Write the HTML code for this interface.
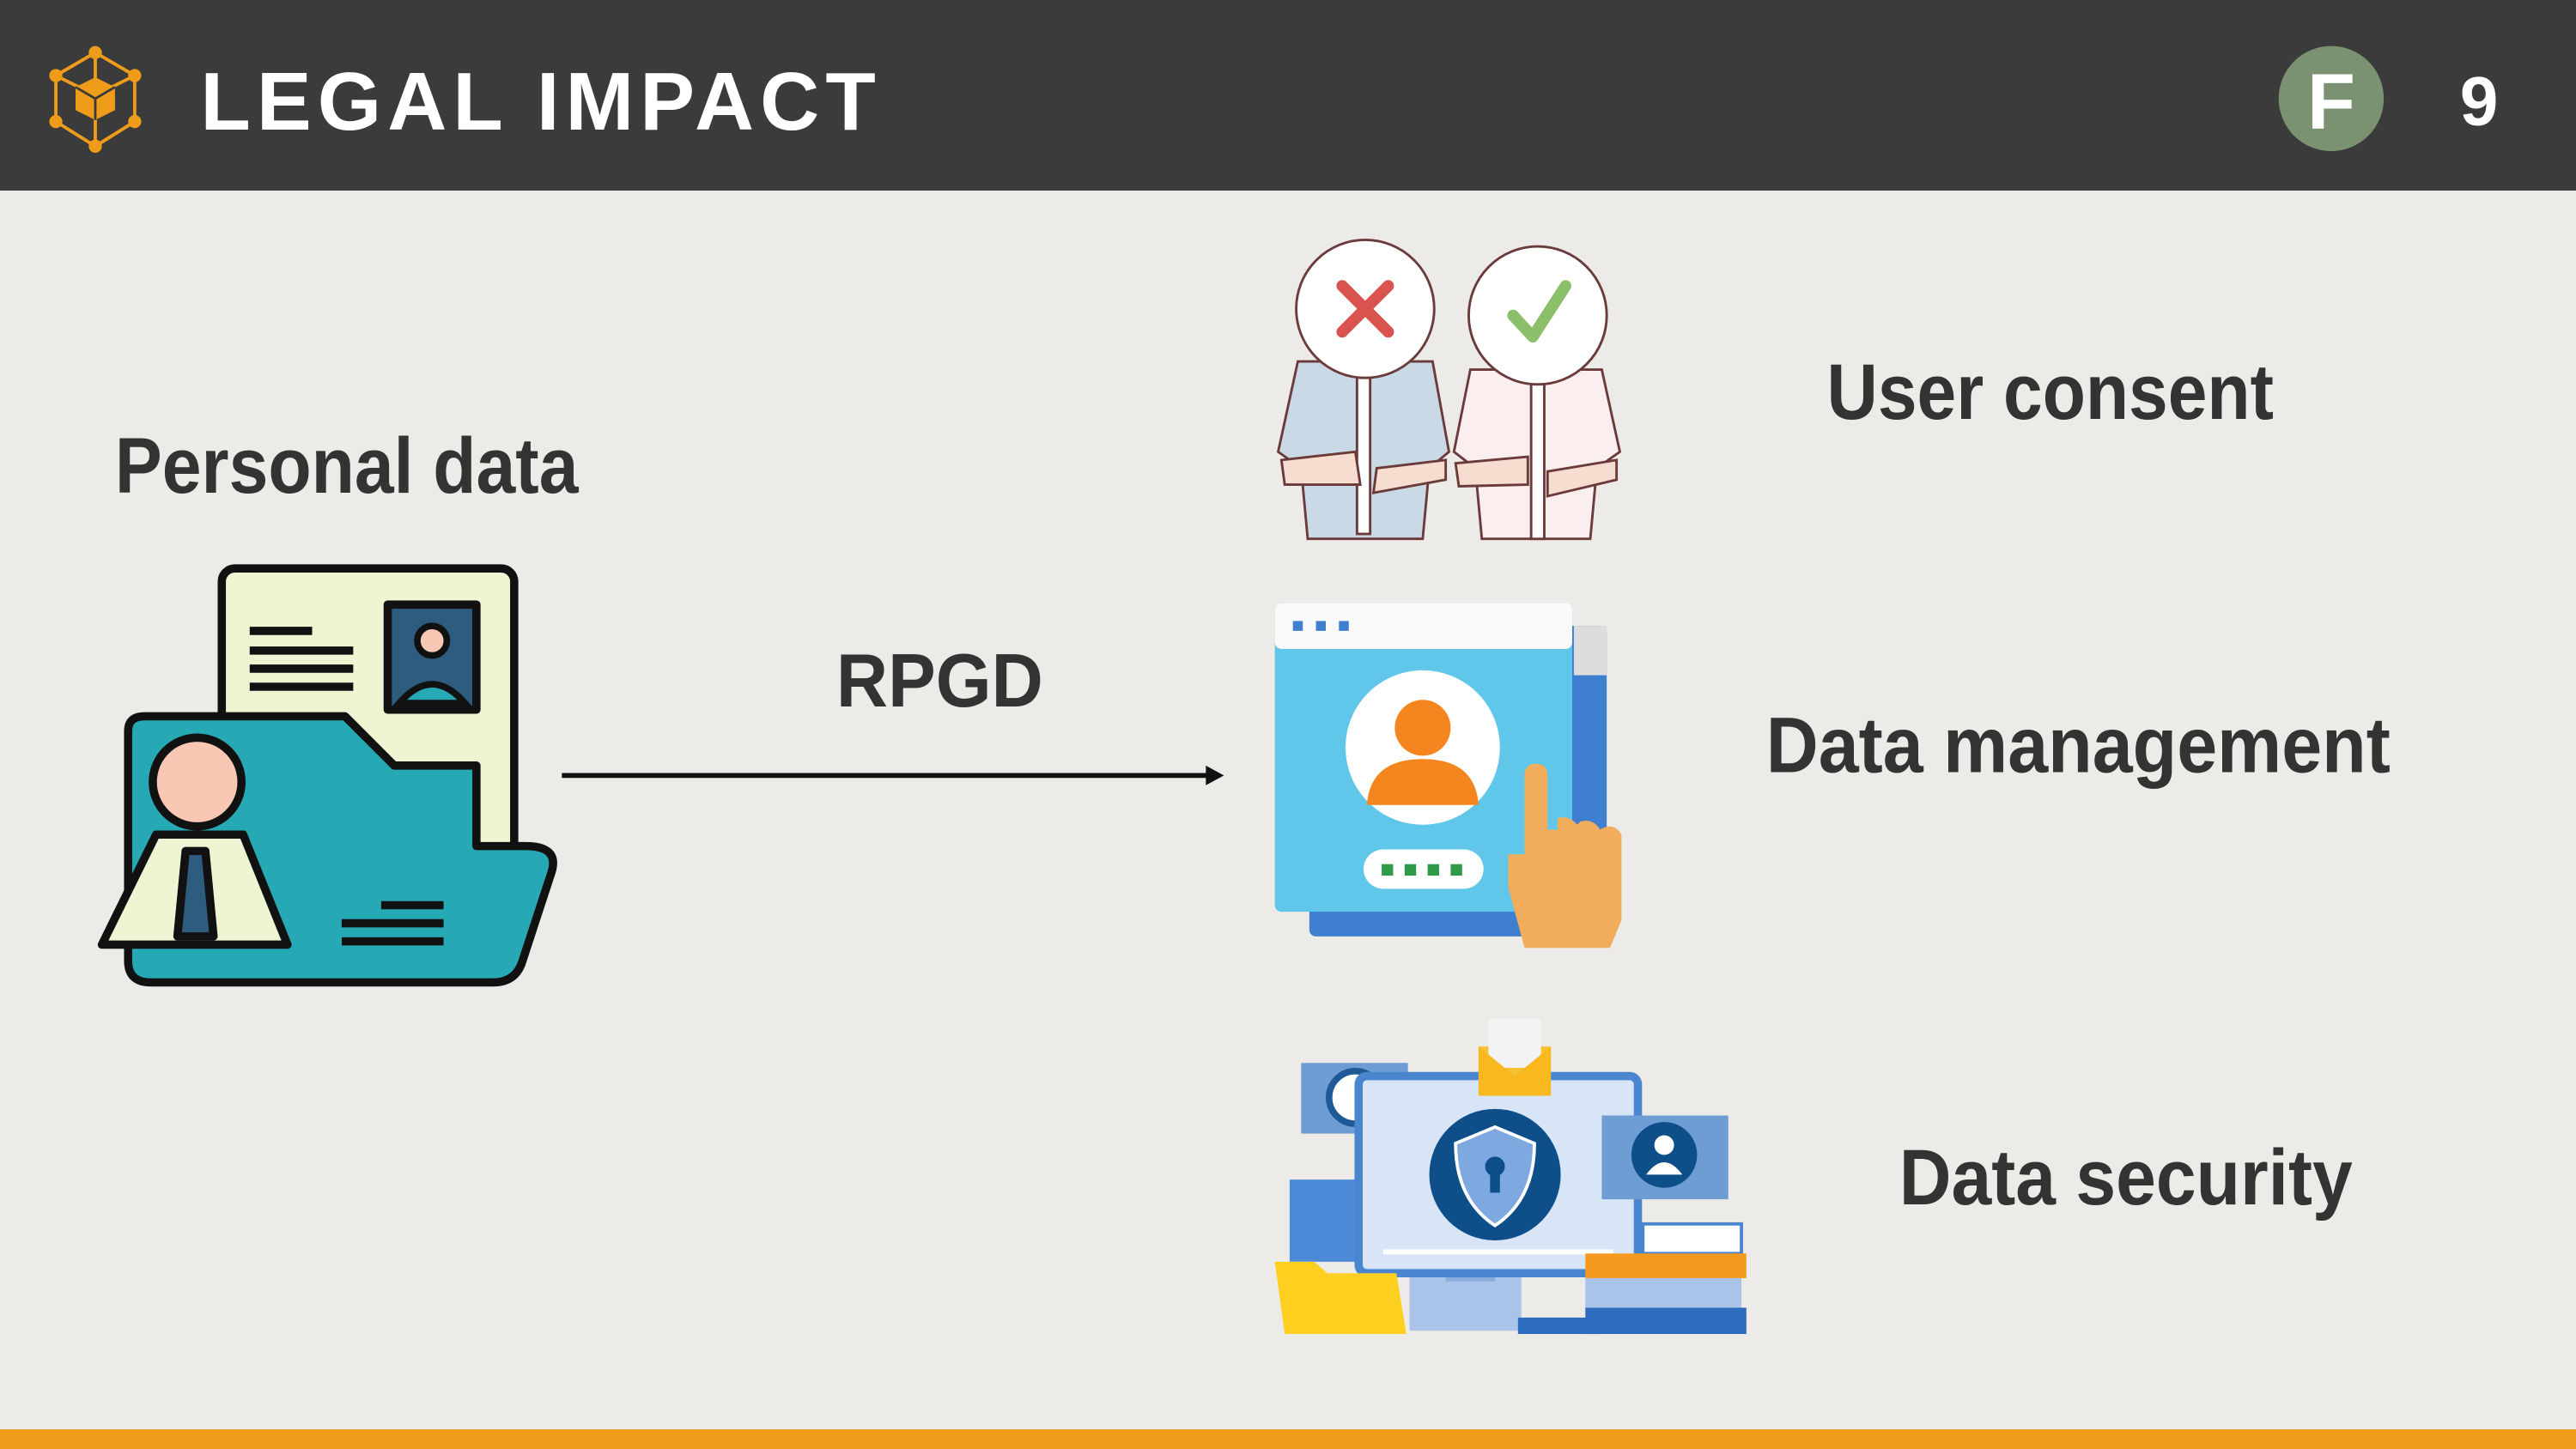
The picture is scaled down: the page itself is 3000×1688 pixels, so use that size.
<!DOCTYPE html>
<html><head><meta charset="utf-8"><style>
html,body{margin:0;padding:0;background:#edebe7}
svg{display:block}
</style></head><body>
<svg width="3000" height="1688" viewBox="0 0 1568 882" preserveAspectRatio="none" xmlns="http://www.w3.org/2000/svg">
<rect width="1568" height="882" fill="#edebe7"/>
<rect width="1568" height="116" fill="#3b3b3b"/>
<rect y="870" width="1568" height="12" fill="#f09c1b"/>
<!-- logo -->
<g stroke="#f09c1b" stroke-width="2" fill="none">
<polygon points="58,32 82,46 82,74 58,89 34,74 34,46"/>
<line x1="58" y1="32" x2="58" y2="89"/><line x1="34" y1="46" x2="58" y2="58"/><line x1="82" y1="46" x2="58" y2="58"/>
</g>
<g fill="#f09c1b"><circle cx="58" cy="32" r="4"/><circle cx="82" cy="46" r="4"/><circle cx="82" cy="74" r="4"/><circle cx="58" cy="89" r="4"/><circle cx="34" cy="74" r="4"/><circle cx="34" cy="46" r="4"/>
<polygon points="58,47 70,53 70,67 58,73 46,67 46,53"/></g>
<g stroke="#3b3b3b" stroke-width="1.5"><line x1="58" y1="60" x2="58" y2="73"/><line x1="46" y1="53" x2="58" y2="60"/><line x1="70" y1="53" x2="58" y2="60"/></g>
<text x="122" y="79" font-family="Liberation Sans, sans-serif" font-weight="bold" font-size="50" fill="#fff" textLength="411" lengthAdjust="spacing">LEGAL IMPACT</text>
<circle cx="1419" cy="60" r="32" fill="#7a9172"/>
<text x="1419" y="78" text-anchor="middle" font-family="Liberation Sans, sans-serif" font-weight="bold" font-size="48" fill="#fff">F</text>
<text x="1509" y="76" text-anchor="middle" font-family="Liberation Sans, sans-serif" font-weight="bold" font-size="42" fill="#fff">9</text>

<g font-family="Liberation Sans, sans-serif" font-weight="bold" fill="#333">
<text x="70" y="300" font-size="48" textLength="282" lengthAdjust="spacingAndGlyphs">Personal data</text>
<text x="509" y="430" font-size="46" textLength="126" lengthAdjust="spacingAndGlyphs">RPGD</text>
<text x="1112" y="255" font-size="48" textLength="272" lengthAdjust="spacingAndGlyphs">User consent</text>
<text x="1075" y="470" font-size="48" textLength="380" lengthAdjust="spacingAndGlyphs">Data management</text>
<text x="1156" y="733" font-size="48" textLength="276" lengthAdjust="spacingAndGlyphs">Data security</text>
</g>
<!-- arrow -->
<line x1="342" y1="472" x2="738" y2="472" stroke="#111" stroke-width="3"/>
<polygon points="745,472 734,466 734,478" fill="#111"/>

<!-- personal data icon -->
<g stroke="#111" stroke-width="5" stroke-linejoin="round">
<rect x="135" y="346" width="178" height="228" rx="8" fill="#eef5d2"/>
<rect x="236" y="368" width="54" height="64" fill="#2d5c7e"/>
<path d="M78,445 Q78,436 88,436 L210,436 L240,466 L290,466 L290,515 L320,515 Q340,515 336,530 L318,585 Q314,598 300,598 L92,598 Q78,598 78,585 Z" fill="#27a9b5"/>
<circle cx="120" cy="476" r="27" fill="#f9c8b4"/>
<path d="M95,508 L148,508 L175,575 L62,575 Z" fill="#eef5d2"/>
<path d="M113,518 L125,518 L130,570 L108,570 Z" fill="#2d5c7e"/>
</g>
<circle cx="263" cy="390" r="9" fill="#f9c8b4" stroke="#111" stroke-width="4"/>
<path d="M243,428 Q263,405 283,428 Z" fill="#27a9b5" stroke="#111" stroke-width="4"/>
<g stroke="#111" stroke-width="5"><line x1="152" y1="384" x2="190" y2="384"/><line x1="152" y1="396" x2="215" y2="396"/><line x1="152" y1="407" x2="215" y2="407"/><line x1="152" y1="418" x2="215" y2="418"/>
<line x1="232" y1="551" x2="270" y2="551"/><line x1="208" y1="562" x2="270" y2="562"/><line x1="208" y1="573" x2="270" y2="573"/></g>

<!-- user consent -->
<g stroke="#6b3a3a" stroke-width="1.5">
<path d="M790,220 L872,220 L882,275 L870,285 L866,328 L796,328 L792,285 L778,275 Z" fill="#c9d9e6"/>
<path d="M895,225 L975,225 L986,275 L972,285 L968,328 L902,328 L898,285 L885,275 Z" fill="#fbeeee"/>
<rect x="826" y="225" width="8" height="100" fill="#fff"/>
<rect x="932" y="228" width="8" height="100" fill="#fff"/>
<circle cx="831" cy="188" r="42" fill="#fff"/>
<circle cx="936" cy="192" r="42" fill="#fff"/>
<path d="M780,280 L825,275 L828,295 L782,295 Z" fill="#f6ddd0"/>
<path d="M880,280 L838,285 L836,300 L880,292 Z" fill="#f6ddd0"/>
<path d="M886,282 L930,278 L930,295 L888,296 Z" fill="#f6ddd0"/>
<path d="M984,280 L942,287 L942,302 L984,292 Z" fill="#f6ddd0"/>
</g>
<g stroke="#d9534f" stroke-width="7" stroke-linecap="round"><line x1="817" y1="174" x2="845" y2="202"/><line x1="845" y1="174" x2="817" y2="202"/></g>
<polyline points="921,192 933,205 953,174" fill="none" stroke="#8bbf6a" stroke-width="7" stroke-linecap="round" stroke-linejoin="round"/>

<!-- data management -->
<rect x="797" y="381" width="181" height="189" rx="4" fill="#3f7fcf"/>
<rect x="958" y="381" width="20" height="30" fill="#ddd"/>
<rect x="776" y="367" width="181" height="188" rx="4" fill="#60c6ea"/>
<rect x="776" y="367" width="181" height="28" rx="4" fill="#fafafa"/>
<g fill="#3f7fcf"><rect x="787" y="378" width="6" height="6"/><rect x="801" y="378" width="6" height="6"/><rect x="815" y="378" width="6" height="6"/></g>
<circle cx="866" cy="455" r="47" fill="#fff"/>
<circle cx="866" cy="443" r="17" fill="#f5861f"/>
<path d="M832,490 Q834,462 866,462 Q898,462 900,490 Z" fill="#f5861f"/>
<rect x="830" y="517" width="73" height="24" rx="12" fill="#fff"/>
<g fill="#2e9a4a"><rect x="841" y="526" width="7" height="7"/><rect x="855" y="526" width="7" height="7"/><rect x="869" y="526" width="7" height="7"/><rect x="883" y="526" width="7" height="7"/></g>
<path d="M928,472 Q928,465 935,465 Q942,465 942,472 L942,505 L948,505 L948,498 Q955,496 960,502 L962,500 Q970,498 974,505 Q982,500 987,508 L987,560 L980,577 L928,577 L918,540 L918,520 L928,520 Z" fill="#f1ad5b"/>

<!-- data security -->
<rect x="792" y="647" width="65" height="43" fill="#6d9dd3"/>
<circle cx="825" cy="668" r="16" fill="#fff" stroke="#1f5a96" stroke-width="4"/>
<rect x="785" y="718" width="45" height="50" fill="#4d8ad8"/>
<rect x="858" y="770" width="68" height="40" fill="#a9c4e8"/>
<rect x="880" y="760" width="30" height="20" fill="#88aee0"/>
<rect x="827" y="655" width="170" height="120" rx="5" fill="#d7e5f7" stroke="#4a86cf" stroke-width="5"/>
<line x1="842" y1="762" x2="982" y2="762" stroke="#fff" stroke-width="3"/>
<circle cx="910" cy="715" r="40" fill="#0e4f8a"/>
<path d="M910,686 L934,696 Q934,730 910,746 Q886,730 886,696 Z" fill="#7ea9e0" stroke="#fff" stroke-width="2"/>
<circle cx="910" cy="710" r="6" fill="#0e4f8a"/><rect x="907" y="710" width="6" height="16" fill="#0e4f8a"/>
<rect x="900" y="637" width="44" height="30" fill="#f6c234"/>
<rect x="906" y="620" width="32" height="30" fill="#f3f3f3"/>
<polygon points="900,637 922,655 944,637 944,667 900,667" fill="#f9b81e"/>
<rect x="975" y="679" width="77" height="51" fill="#6d9dd3"/>
<circle cx="1013" cy="703" r="20" fill="#0e4f8a"/>
<circle cx="1013" cy="697" r="6" fill="#fff"/><path d="M1002,715 Q1013,700 1024,715 Z" fill="#fff"/>
<rect x="1000" y="745" width="60" height="18" fill="#fff" stroke="#4a86cf" stroke-width="2"/>
<rect x="965" y="763" width="98" height="15" fill="#f49b1f"/>
<rect x="965" y="778" width="95" height="18" fill="#a9c4e8"/>
<rect x="965" y="796" width="98" height="16" fill="#2d6bbd"/>
<rect x="924" y="802" width="50" height="10" fill="#2d6bbd"/>
<path d="M776,768 L800,768 L808,775 L850,775 L856,812 L782,812 Z" fill="#ffcf1f"/>
</svg>
</body></html>
